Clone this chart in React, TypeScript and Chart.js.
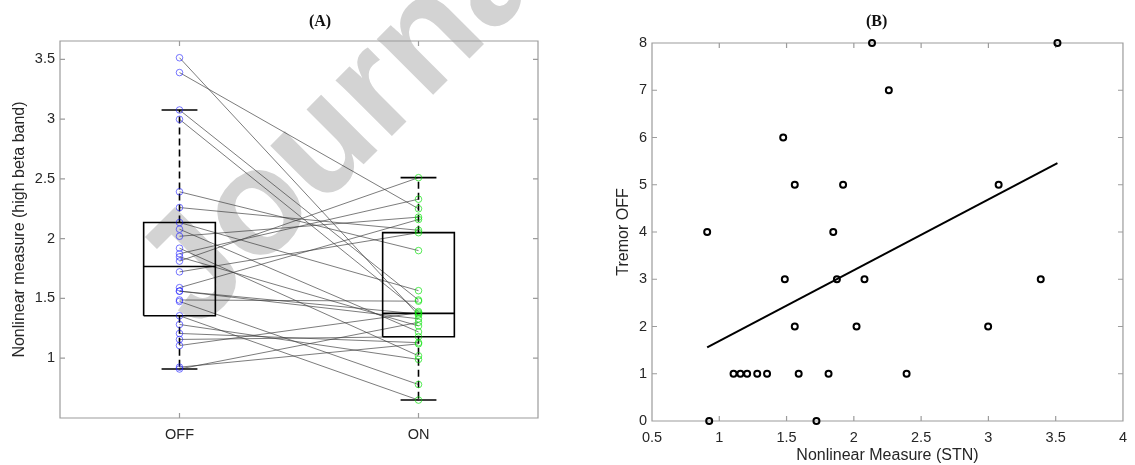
import React, { useEffect, useRef } from "react";
import { Chart, registerables } from "chart.js";

Chart.register(...registerables);

// ---------- data ----------
const categories = ["OFF", "ON"];
const nonlinearOff = [3.513, 3.389, 3.076, 2.998, 2.392, 2.26, 2.135, 2.079, 2.02, 1.92, 1.874, 1.847, 1.812, 1.722, 1.59, 1.561, 1.561, 1.487, 1.475, 1.355, 1.282, 1.207, 1.157, 1.106, 0.925, 0.91];
const nonlinearOn = [1.36, 2.25, 1.487, 1.39, 1.9, 2.07, 1.565, 1.22, 2.18, 1.02, 2.33, 1.27, 2.51, 2.05, 2.16, 1.37, 1.33, 1.477, 0.78, 0.65, 0.99, 1.13, 1.18, 1.38, 1.12, 1.3];
const tremorOff = [8, 3, 5, 2, 1, 7, 8, 3, 2, 5, 3, 4, 1, 0, 1, 5, 2, 3, 6, 1, 1, 1, 1, 1, 0, 4];

const yTicksA = [1, 1.5, 2, 2.5, 3, 3.5];
const xTicksB = [0.5, 1, 1.5, 2, 2.5, 3, 3.5, 4];
const yTicksB = [0, 1, 2, 3, 4, 5, 6, 7, 8];
const yRangeA = [0.5, 3.653];
const xRangeB = [0.5, 4];
const yRangeB = [0, 8];

const TEXT = "#262626";
const AXIS = "#9c9c9c";
const SANS = "'Liberation Sans', Arial, sans-serif";

// MATLAB-style percentile
function prctile(sorted: number[], p: number) {
  const n = sorted.length;
  const pos = n * p + 0.5;
  if (pos <= 1) return sorted[0];
  if (pos >= n) return sorted[n - 1];
  const lo = Math.floor(pos);
  const f = pos - lo;
  return sorted[lo - 1] + f * (sorted[lo] - sorted[lo - 1]);
}

function boxStats(vals: number[]) {
  const s = [...vals].sort((a, b) => a - b);
  const q1 = prctile(s, 0.25);
  const med = prctile(s, 0.5);
  const q3 = prctile(s, 0.75);
  const iqr = q3 - q1;
  const hi = Math.max(...s.filter((v) => v <= q3 + 1.5 * iqr));
  const lo = Math.min(...s.filter((v) => v >= q1 - 1.5 * iqr));
  return { q1, med, q3, hi, lo };
}

function boxDatasets(vals: number[], c: number) {
  const { q1, med, q3, hi, lo } = boxStats(vals);
  const w = 0.15;
  const cw = 0.075;
  const base = { showLine: true, pointRadius: 0, borderColor: "#000", borderWidth: 1.6, fill: false };
  return [
    { ...base, data: [{ x: c - w, y: q1 }, { x: c + w, y: q1 }, { x: c + w, y: q3 }, { x: c - w, y: q3 }, { x: c - w, y: q1 }] },
    { ...base, data: [{ x: c - w, y: med }, { x: c + w, y: med }] },
    { ...base, borderDash: [7, 4], data: [{ x: c, y: q3 }, { x: c, y: hi }] },
    { ...base, borderDash: [7, 4], data: [{ x: c, y: q1 }, { x: c, y: lo }] },
    { ...base, data: [{ x: c - cw, y: hi }, { x: c + cw, y: hi }] },
    { ...base, data: [{ x: c - cw, y: lo }, { x: c + cw, y: lo }] },
  ];
}

const framePlugin = {
  id: "frame",
  beforeDatasetsDraw(chart: any, _a: any, opts: any) {
    const { ctx, chartArea } = chart;
    const { left, top, right, bottom } = chartArea;
    const xs = chart.scales.x;
    const ys = chart.scales.y;
    const tl = opts.tickLength || 5;
    ctx.save();
    ctx.strokeStyle = AXIS;
    ctx.lineWidth = 1.2;
    ctx.beginPath();
    ctx.rect(left, top, right - left, bottom - top);
    xs.ticks.forEach((t: any) => {
      const p = xs.getPixelForValue(t.value);
      ctx.moveTo(p, bottom);
      ctx.lineTo(p, bottom - tl);
      ctx.moveTo(p, top);
      ctx.lineTo(p, top + tl);
    });
    ys.ticks.forEach((t: any) => {
      const p = ys.getPixelForValue(t.value);
      ctx.moveTo(left, p);
      ctx.lineTo(left + tl, p);
      ctx.moveTo(right, p);
      ctx.lineTo(right - tl, p);
    });
    ctx.stroke();
    ctx.restore();
  },
  afterDraw(chart: any, _a: any, opts: any) {
    if (!opts.title) return;
    const { ctx, chartArea } = chart;
    ctx.save();
    ctx.font = "bold 16px 'Liberation Serif', 'Times New Roman', serif";
    ctx.fillStyle = "#111";
    ctx.textAlign = "center";
    ctx.textBaseline = "middle";
    ctx.fillText(opts.title, chartArea.left + opts.titleFrac * (chartArea.right - chartArea.left), chartArea.top + opts.titleDy);
    ctx.restore();
  },
};

function tickFont(size: number) {
  return { family: SANS, size };
}

export default function App() {
  const refA = useRef<HTMLCanvasElement | null>(null);
  const refB = useRef<HTMLCanvasElement | null>(null);

  useEffect(() => {
    // ----- Panel A -----
    const pointsOff = {
      data: nonlinearOff.map((v) => ({ x: 1, y: v })),
      pointRadius: 3.3,
      pointBorderWidth: 1,
      pointBorderColor: "rgba(30,30,255,0.6)",
      pointBackgroundColor: "rgba(0,0,0,0)",
      showLine: false,
    };
    const pointsOn = {
      data: nonlinearOn.map((v) => ({ x: 2, y: v })),
      pointRadius: 3.3,
      pointBorderWidth: 1,
      pointBorderColor: "rgba(0,225,0,0.65)",
      pointBackgroundColor: "rgba(0,0,0,0)",
      showLine: false,
    };
    const pairLines = nonlinearOff.map((v, i) => ({
      data: [{ x: 1, y: v }, { x: 2, y: nonlinearOn[i] }],
      showLine: true,
      pointRadius: 0,
      borderColor: "rgba(60,60,60,0.75)",
      borderWidth: 0.9,
    }));

    const chartA = new Chart(refA.current as HTMLCanvasElement, {
      type: "scatter",
      data: {
        datasets: [pointsOff, pointsOn, ...boxDatasets(nonlinearOff, 1), ...boxDatasets(nonlinearOn, 2), ...pairLines] as any,
      },
      plugins: [framePlugin],
      options: {
        responsive: false,
        animation: false,
        events: [],
        layout: { padding: { left: 0, right: 22, top: 41, bottom: 0 } },
        plugins: {
          legend: { display: false },
          tooltip: { enabled: false },
          frame: { title: "(A)", titleFrac: 0.544, titleDy: -19, tickLength: 5 },
        } as any,
        scales: {
          x: {
            type: "linear",
            min: 0.5,
            max: 2.5,
            grid: { display: false, drawTicks: false },
            border: { display: false },
            afterBuildTicks: (s: any) => {
              s.ticks = categories.map((_c, i) => ({ value: i + 1 }));
            },
            afterFit: (s: any) => {
              s.height = 47;
            },
            ticks: {
              color: TEXT,
              font: tickFont(14.5),
              padding: 8,
              autoSkip: false,
              maxRotation: 0,
              callback: (v: any) => categories[Math.round(Number(v)) - 1] ?? "",
            },
          },
          y: {
            type: "linear",
            min: yRangeA[0],
            max: yRangeA[1],
            grid: { display: false, drawTicks: false },
            border: { display: false },
            afterBuildTicks: (s: any) => {
              s.ticks = yTicksA.map((v) => ({ value: v }));
            },
            afterFit: (s: any) => {
              s.width = 60;
            },
            ticks: {
              color: TEXT,
              font: tickFont(14.5),
              padding: 5,
              autoSkip: false,
              callback: (v: any) => String(v),
            },
            title: {
              display: true,
              text: "Nonlinear measure (high beta band)",
              color: TEXT,
              font: { family: SANS, size: 16, lineHeight: 1 },
              padding: { top: 12, bottom: 0 },
            },
          },
        },
      } as any,
    });

    // ----- Panel B -----
    const n = nonlinearOff.length;
    const mx = nonlinearOff.reduce((a, b) => a + b, 0) / n;
    const my = tremorOff.reduce((a, b) => a + b, 0) / n;
    let sxy = 0;
    let sxx = 0;
    nonlinearOff.forEach((x, i) => {
      sxy += (x - mx) * (tremorOff[i] - my);
      sxx += (x - mx) * (x - mx);
    });
    const slope = sxy / sxx;
    const icpt = my - slope * mx;
    const xMin = Math.min(...nonlinearOff);
    const xMax = Math.max(...nonlinearOff);

    const chartB = new Chart(refB.current as HTMLCanvasElement, {
      type: "scatter",
      data: {
        datasets: [
          {
            data: nonlinearOff.map((x, i) => ({ x, y: tremorOff[i] })),
            pointRadius: 3,
            pointBorderWidth: 2,
            pointBorderColor: "#000",
            pointBackgroundColor: "rgba(0,0,0,0)",
            showLine: false,
            clip: false,
          },
          {
            data: [
              { x: xMin, y: icpt + slope * xMin },
              { x: xMax, y: icpt + slope * xMax },
            ],
            showLine: true,
            pointRadius: 0,
            borderColor: "#000",
            borderWidth: 2,
            clip: false,
          },
        ] as any,
      },
      plugins: [framePlugin],
      options: {
        responsive: false,
        animation: false,
        events: [],
        layout: { padding: { left: 0, right: 6, top: 43, bottom: 0 } },
        plugins: {
          legend: { display: false },
          tooltip: { enabled: false },
          frame: { title: "(B)", titleFrac: 0.477, titleDy: -21.5, tickLength: 5 },
        } as any,
        scales: {
          x: {
            type: "linear",
            min: xRangeB[0],
            max: xRangeB[1],
            grid: { display: false, drawTicks: false },
            border: { display: false },
            afterBuildTicks: (s: any) => {
              s.ticks = xTicksB.map((v) => ({ value: v }));
            },
            afterFit: (s: any) => {
              s.height = 44;
            },
            ticks: {
              color: TEXT,
              font: tickFont(14.5),
              padding: 8,
              autoSkip: false,
              maxRotation: 0,
              callback: (v: any) => String(v),
            },
            title: {
              display: true,
              text: "Nonlinear Measure (STN)",
              color: TEXT,
              font: { family: SANS, size: 16, lineHeight: 1 },
              padding: { top: 0, bottom: 1 },
            },
          },
          y: {
            type: "linear",
            min: yRangeB[0],
            max: yRangeB[1],
            grid: { display: false, drawTicks: false },
            border: { display: false },
            afterBuildTicks: (s: any) => {
              s.ticks = yTicksB.map((v) => ({ value: v }));
            },
            afterFit: (s: any) => {
              s.width = 92;
            },
            ticks: {
              color: TEXT,
              font: tickFont(14.5),
              padding: 5,
              autoSkip: false,
              callback: (v: any) => String(v),
            },
            title: {
              display: true,
              text: "Tremor OFF",
              color: TEXT,
              font: { family: SANS, size: 16, lineHeight: 1 },
              padding: { top: 56, bottom: 0 },
            },
          },
        },
      } as any,
    });

    return () => {
      chartA.destroy();
      chartB.destroy();
    };
  }, []);

  return (
    <div style={{ position: "absolute", left: 0, top: 0, width: 1135, height: 465, overflow: "hidden", background: "#fff" }}>
      <div
        style={{
          position: "absolute",
          left: 196,
          top: 205,
          fontFamily: SANS,
          fontWeight: "bold",
          fontSize: 150,
          lineHeight: 1,
          color: "#d3d3d3",
          whiteSpace: "nowrap",
          transformOrigin: "0px 127px",
          transform: "rotate(-45deg)",
          zIndex: 0,
        }}
      >
        Journal
      </div>
      <canvas ref={refA} width={560} height={465} style={{ position: "absolute", left: 0, top: 0, zIndex: 1 }} />
      <canvas ref={refB} width={575} height={465} style={{ position: "absolute", left: 560, top: 0, zIndex: 1 }} />
    </div>
  );
}
